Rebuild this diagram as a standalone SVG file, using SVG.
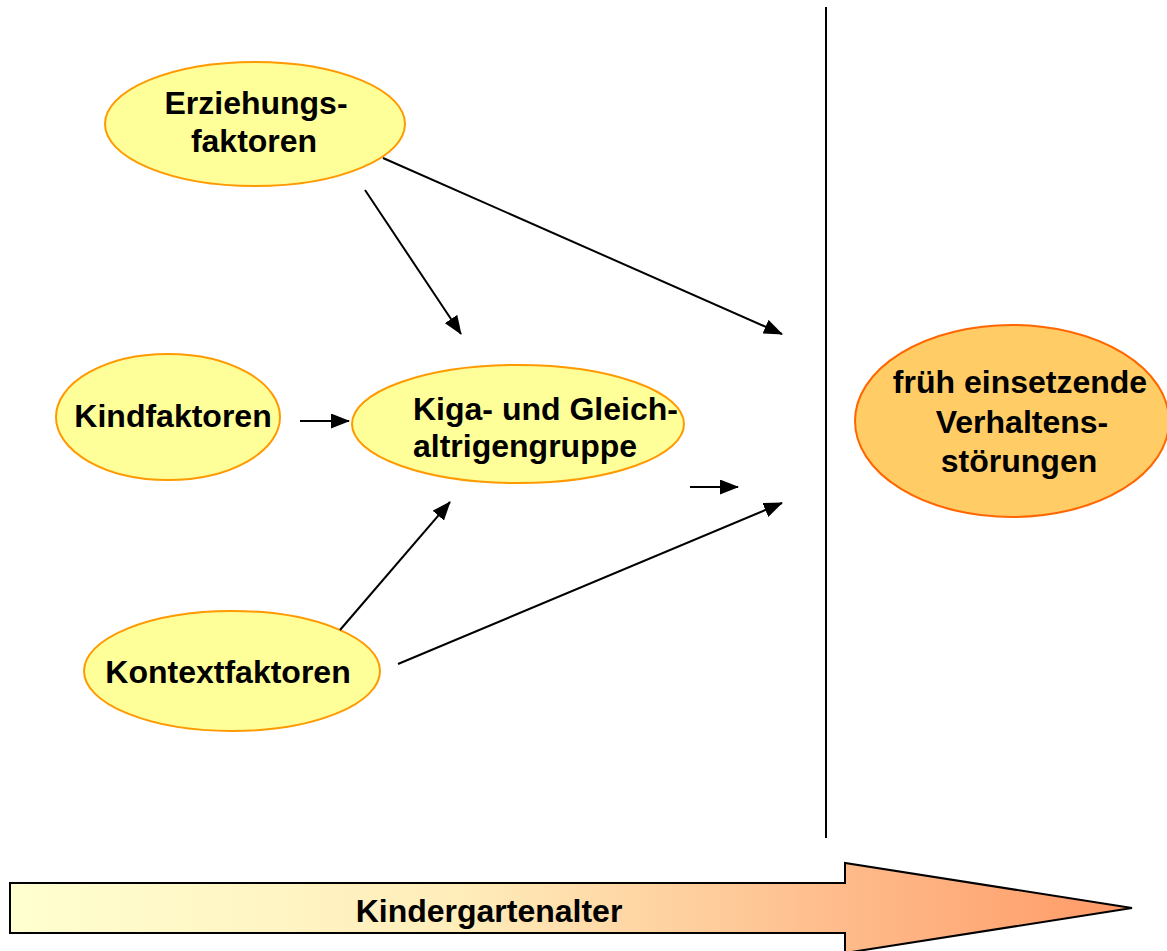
<svg xmlns="http://www.w3.org/2000/svg" width="1167" height="951" viewBox="0 0 1167 951">
<style>
.n{fill:#FFFF99;stroke:#FF9900;stroke-width:2}
.o{fill:#FFCC66;stroke:#FF6600;stroke-width:2}
.t{font-family:"Liberation Sans",Arial,sans-serif;font-weight:bold;font-size:32px;fill:#000}
.c line{stroke:#000;stroke-width:2;marker-end:url(#ah)}
</style>
<defs>
<marker id="ah" markerUnits="userSpaceOnUse" markerWidth="19" markerHeight="15" refX="18" refY="7.5" orient="auto">
<path d="M0,0 L19,7.5 L0,15 z" fill="#000"/>
</marker>
<linearGradient id="g" gradientUnits="userSpaceOnUse" x1="10" y1="0" x2="1133" y2="0">
<stop offset="0" stop-color="#FFFFD0"/>
<stop offset="0.4" stop-color="#FFEDBA"/>
<stop offset="0.72" stop-color="#FFBE8E"/>
<stop offset="1" stop-color="#FF9966"/>
</linearGradient>
</defs>
<rect width="1167" height="951" fill="#fff"/>
<line x1="826" y1="7" x2="826" y2="838" stroke="#000" stroke-width="2"/>
<g id="timeline">
<path d="M10,883 L845,883 L845,863 L1132,908 L845,953 L845,933 L10,933 z" fill="url(#g)" stroke="#000" stroke-width="2"/>
<text class="t" x="489" y="922" text-anchor="middle">Kindergartenalter</text>
</g>
<g id="erziehung">
<ellipse class="n" cx="255" cy="124" rx="150" ry="62"/>
<text class="t" x="256" y="114" text-anchor="middle">Erziehungs-</text>
<text class="t" x="254" y="152" text-anchor="middle">faktoren</text>
</g>
<g id="kind">
<ellipse class="n" cx="168" cy="417" rx="112" ry="63"/>
<text class="t" x="173" y="427" text-anchor="middle">Kindfaktoren</text>
</g>
<g id="kiga">
<ellipse class="n" cx="518" cy="424" rx="166" ry="59"/>
<text class="t" x="413" y="420">Kiga- und Gleich-</text>
<text class="t" x="413" y="457">altrigengruppe</text>
</g>
<g id="kontext">
<ellipse class="n" cx="232" cy="671" rx="148" ry="60"/>
<text class="t" x="228" y="683" text-anchor="middle">Kontextfaktoren</text>
</g>
<g id="frueh">
<ellipse class="o" cx="1012" cy="421" rx="157" ry="96"/>
<text class="t" x="1020" y="393" text-anchor="middle">früh einsetzende</text>
<text class="t" x="1022" y="433" text-anchor="middle">Verhaltens-</text>
<text class="t" x="1019" y="472" text-anchor="middle">störungen</text>
</g>
<g id="connectors" class="c">
<line x1="383" y1="158" x2="782" y2="334"/>
<line x1="365" y1="190" x2="461" y2="334"/>
<line x1="300" y1="421" x2="349" y2="421"/>
<line x1="690" y1="487" x2="738" y2="487"/>
<line x1="340" y1="630" x2="450" y2="502"/>
<line x1="398" y1="664" x2="782" y2="503"/>
</g>
</svg>
